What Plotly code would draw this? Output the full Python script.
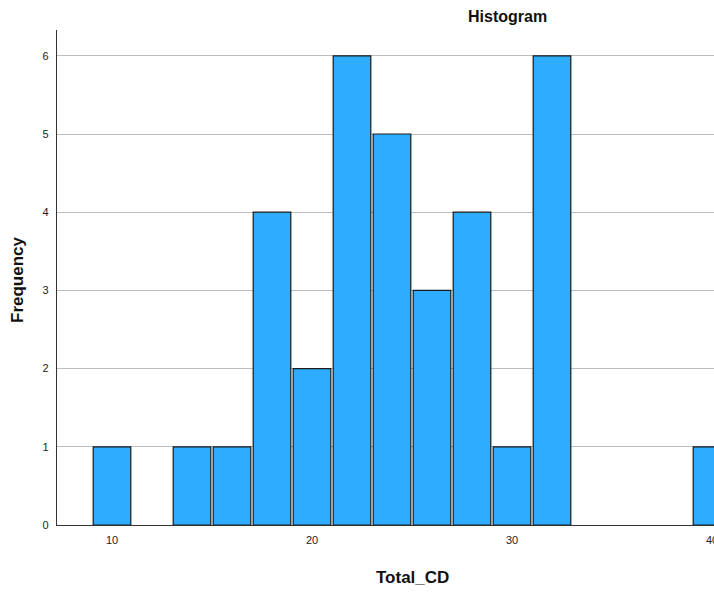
import plotly.graph_objects as go

bin_centers = [10, 14, 16, 18, 20, 22, 24, 26, 28, 30, 32, 40]
frequencies = [1, 1, 1, 4, 2, 6, 5, 3, 4, 1, 6, 1]
x_ticks = [10, 20, 30, 40]
y_ticks = [0, 1, 2, 3, 4, 5, 6]

fig = go.Figure()
fig.add_trace(go.Bar(
    x=bin_centers, y=frequencies, width=1.88,
    marker=dict(color="#2eacff", line=dict(color="#1a1a1a", width=1.2)),
))

# figure slightly wider than the window so the plot runs off the right edge
W, H = 724, 594
ml, mr, mt, mb = 57, 0, 30, 69
pw, ph = W - ml - mr, H - mt - mb
x0 = 7.25
fig.update_layout(
    width=W, height=H,
    margin=dict(l=ml, r=mr, t=mt, b=mb),
    paper_bgcolor="white", plot_bgcolor="white",
    showlegend=False,
    font=dict(family="Liberation Sans, Arial, sans-serif", size=11, color="#222"),
    xaxis=dict(range=[x0, x0 + pw / 20.0], tickvals=x_ticks, showgrid=False, zeroline=False,
               showline=True, linecolor="#333", linewidth=1.2, ticks="",
               ticklabelstandoff=5, ticklabeloverflow="allow",
               tickfont=dict(size=11, color="#222")),
    yaxis=dict(range=[0, 6.33], tickvals=y_ticks, showgrid=True, gridcolor="#bdbdbd",
               gridwidth=1, zeroline=False, showline=True, linecolor="#333", linewidth=1.2,
               ticks="", ticklabelstandoff=5, tickfont=dict(size=11, color="#222")),
)

def px_ann(text, wx, wy, size, angle=0):
    return dict(text=text, x=(wx - ml) / pw, y=(H - mb - wy) / ph,
                xref="paper", yref="paper", xanchor="center", yanchor="middle",
                showarrow=False, textangle=angle, font=dict(size=size, color="#111"))

fig.update_layout(annotations=[
    px_ann("<b>Histogram</b>", 507, 16, 16),
    px_ann("<b>Total_CD</b>", 412, 577, 17),
    px_ann("<b>Frequency</b>", 17, 280, 17, -90),
])

fig.write_html("out.html", config={"displayModeBar": False},
               post_script="document.body.style.margin='0px';document.body.style.overflow='hidden';")
